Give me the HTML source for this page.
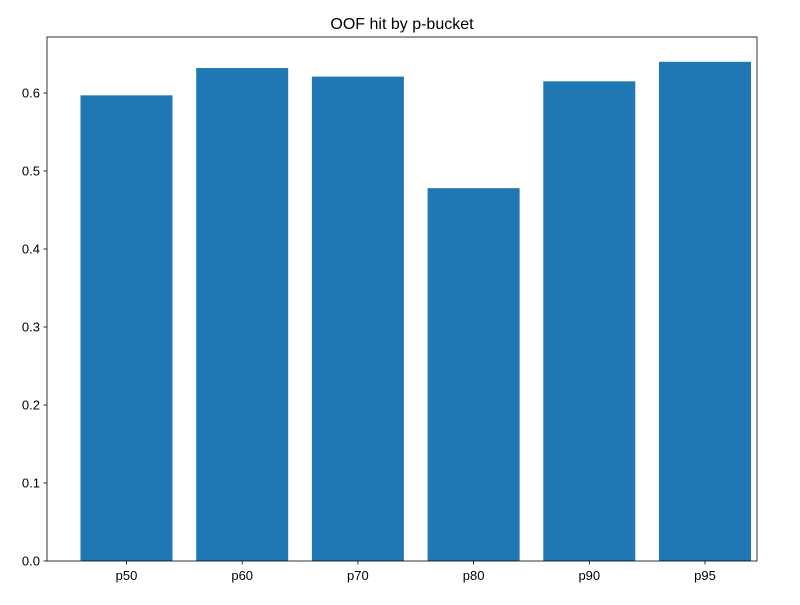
<!DOCTYPE html>
<html><head><meta charset="utf-8"><style>
body{margin:0;background:#fff;font-family:"Liberation Sans","DejaVu Sans",sans-serif}
</style></head><body>
<svg id="chart" width="800" height="600" xmlns="http://www.w3.org/2000/svg">
<rect width="800" height="600" fill="#fff"/>
<text x="402" y="29" font-size="16" text-anchor="middle">OOF hit by p-bucket</text>
<g id="bars"></g><g id="axes"></g>
</svg>
<script>
const categories = ["p50","p60","p70","p80","p90","p95"];
const values = [0.597,0.632,0.621,0.478,0.615,0.640];
const yTicks = [0.0,0.1,0.2,0.3,0.4,0.5,0.6];
const L=47,R=757,T=37,B=561;
const unit=115.7, c0=126.5, bw=92;
const xs=i=>c0+i*unit;
const ys=v=>B-v*780;
const ns="http://www.w3.org/2000/svg";
const bars=document.getElementById('bars'), axes=document.getElementById('axes');
function mk(t,a,p){const e=document.createElementNS(ns,t);for(const k in a)e.setAttribute(k,a[k]);p.appendChild(e);return e;}
values.forEach((v,i)=>{
 const r=mk('rect',{x:xs(i)-bw/2,y:ys(v),width:bw,height:B-ys(v),fill:'#1f77b4'},bars);
 
 
 mk('line',{x1:xs(i),x2:xs(i),y1:B,y2:B+3.5,stroke:'#000','stroke-width':0.8},axes);
 const t=mk('text',{x:xs(i),y:B+19,'font-size':13,'text-anchor':'middle'},axes);
 t.textContent=categories[i];
 
 
});
yTicks.forEach(v=>{
 mk('line',{x1:L-3.5,x2:L,y1:ys(v),y2:ys(v),stroke:'#000','stroke-width':0.8},axes);
 const t=mk('text',{x:L-7,y:ys(v)+4.5,'font-size':13,'text-anchor':'end'},axes);
 t.textContent=v.toFixed(1);
 
 
});
const f=mk('rect',{x:L,y:T,width:R-L,height:B-T,fill:'none',stroke:'#000','stroke-width':0.8},axes);


</script>
</body></html>
